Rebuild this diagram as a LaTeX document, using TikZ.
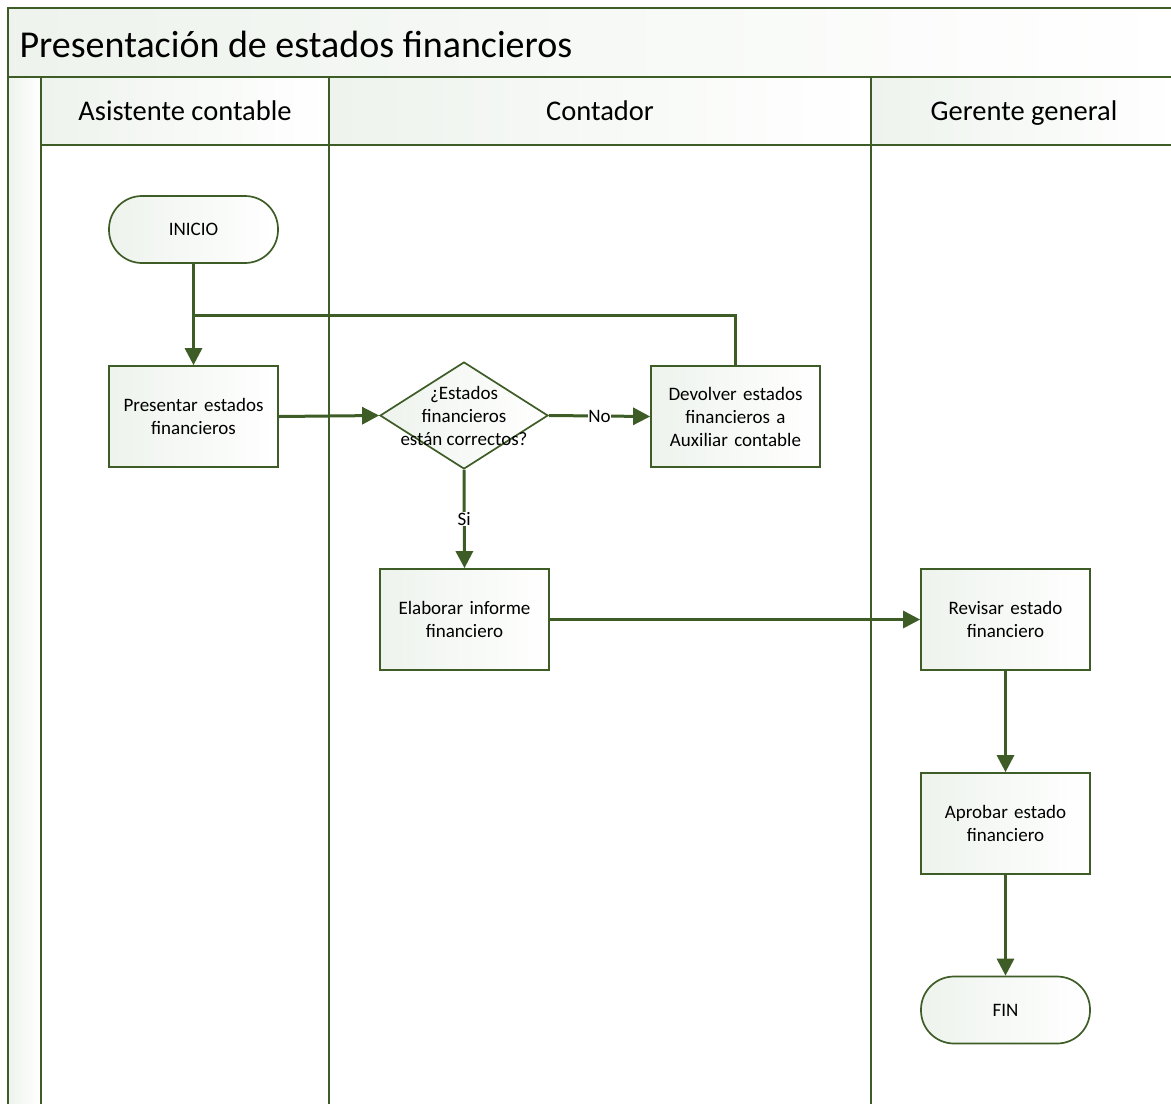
\documentclass[tikz,border=0pt]{standalone}
\usepackage{fontspec}
\setmainfont{Carlito}
\usetikzlibrary{arrows.meta,shapes.geometric}
\definecolor{ln}{RGB}{62,92,38}
\definecolor{shA}{RGB}{238,243,237}
\begin{document}
\begin{tikzpicture}[x=1pt,y=-1pt,
  frame/.style={draw=ln, line width=1.7pt},
  band/.style={frame, left color=shA, right color=white},
  lanehead/.style={font=\fontsize{28.5}{32}\selectfont, text=black, text height=20pt, text depth=6pt},
  box/.style={draw=ln, line width=1.7pt, left color=shA, right color=white,
    minimum width=169pt, minimum height=101pt, inner sep=2pt, align=center,
    text width=150pt, font=\fontsize{19}{23}\selectfont},
  term/.style={box, rounded corners=33pt, minimum height=67pt},
  dia/.style={diamond, draw=ln, line width=1.7pt, left color=shA, right color=white,
    minimum width=168pt, minimum height=107pt, inner sep=0pt},
  txt/.style={align=center, font=\fontsize{19}{23}\selectfont},
  lbl/.style={font=\fontsize{19}{23}\selectfont, fill=white, inner sep=0.5pt},
  conn/.style={draw=ln, line width=3pt},
  arr/.style={conn, -{Triangle[length=17pt,width=17pt]}}]
\useasboundingbox (0,0) rectangle (1171,1104);
% pool frame
\path[band] (8,8) rectangle (1185,77);
\node[anchor=west, font=\fontsize{38}{42}\selectfont] (title) at (16,44) {Presentación de estados financieros};
\path[band] (8,77) rectangle (41,1110);
% lane headers
\path[band] (41,77) rectangle (329,145);
\path[band] (329,77) rectangle (871,145);
\path[band] (871,77) rectangle (1177,145);
\node[lanehead] (h1) at (185,113.5) {Asistente contable};
\node[lanehead] (h2) at (600,113.5) {Contador};
\node[lanehead] (h3) at (1024,113.5) {Gerente general};
% lane bodies
\path[frame] (41,145) rectangle (329,1110);
\path[frame] (329,145) rectangle (871,1110);
\path[frame] (871,145) rectangle (1177,1110);
% nodes
\node[term] (inicio) at (193.5,229.5) {INICIO};
\node[box] (pres) at (193.5,416.5) {Presentar estados\\financieros};
\node[dia] (q) at (464,415.5) {};
\node[txt] (qt) at (464,416) {¿Estados\\financieros\\están correctos?};
\node[box] (dev) at (735.5,416.5) {Devolver estados\\financieros a\\Auxiliar contable};
\node[box] (elab) at (464.5,619.5) {Elaborar informe\\financiero};
\node[box] (rev) at (1005.5,619.5) {Revisar estado\\financiero};
\node[box] (apr) at (1005.5,823.5) {Aprobar estado\\financiero};
\node[term] (fin) at (1005.5,1010) {FIN};
\coordinate (join) at (193.5,315);
% connectors
\draw[arr] (inicio.south) -- (pres.north);
\draw[conn] (dev.north) |- (join);
\draw[arr] (pres.east) -- (q.west);
\draw[arr] (q.east) -- node[lbl, pos=0.5] (no) {No} (dev.west);
\draw[arr] (q.south) -- node[lbl, pos=0.5] (si) {Si} (elab.north);
\draw[arr] (elab.east) -- (rev.west);
\draw[arr] (rev.south) -- (apr.north);
\draw[arr] (apr.south) -- (fin.north);
\end{tikzpicture}
\end{document}
